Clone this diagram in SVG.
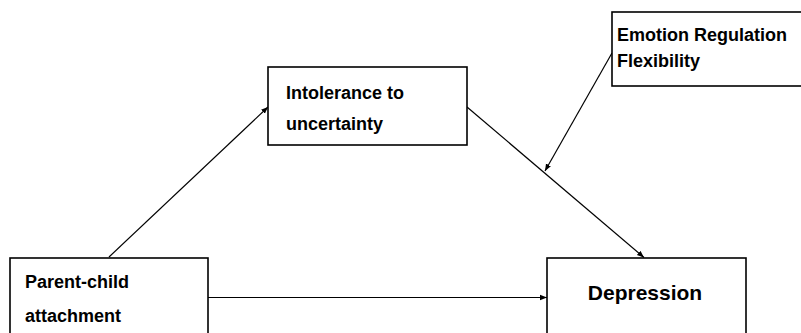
<svg xmlns="http://www.w3.org/2000/svg" width="801" height="333" viewBox="0 0 801 333">
<defs>
<style>
.box{fill:#fff;stroke:#000;stroke-width:1.6}
.t{font-family:"Liberation Sans",Arial,sans-serif;font-weight:bold;font-size:18px;fill:#000}
.big{font-size:21px}
.c{stroke:#000;stroke-width:1.2;fill:none;marker-end:url(#ah)}
</style>
<marker id="ah" viewBox="0 0 10 10" refX="10" refY="5" markerWidth="7" markerHeight="7" markerUnits="userSpaceOnUse" orient="auto">
<path d="M0,1 L10,5 L0,9 Z" fill="#000"/>
</marker>
</defs>
<rect width="801" height="333" fill="#fff"/>
<g id="connectors">
<line class="c" x1="109" y1="257" x2="268" y2="107"/>
<line class="c" x1="208" y1="297.5" x2="547" y2="297.5"/>
<line class="c" x1="467" y1="107" x2="644" y2="257.5"/>
<line class="c" x1="612" y1="53" x2="545" y2="171"/>
</g>
<g id="parent-child">
<rect class="box" x="10" y="258" width="198" height="90"/>
<text class="t" x="25" y="288">Parent-child</text>
<text class="t" x="25" y="322">attachment</text>
</g>
<g id="intolerance">
<rect class="box" x="268" y="67" width="199" height="78"/>
<text class="t" x="286" y="99">Intolerance to</text>
<text class="t" x="286" y="130">uncertainty</text>
</g>
<g id="emotion">
<rect class="box" x="612" y="12" width="200" height="74"/>
<text class="t" x="617" y="41">Emotion Regulation</text>
<text class="t" x="617" y="67">Flexibility</text>
</g>
<g id="depression">
<rect class="box" x="547" y="258" width="199" height="90"/>
<text class="t big" x="645" y="300" text-anchor="middle">Depression</text>
</g>
</svg>
